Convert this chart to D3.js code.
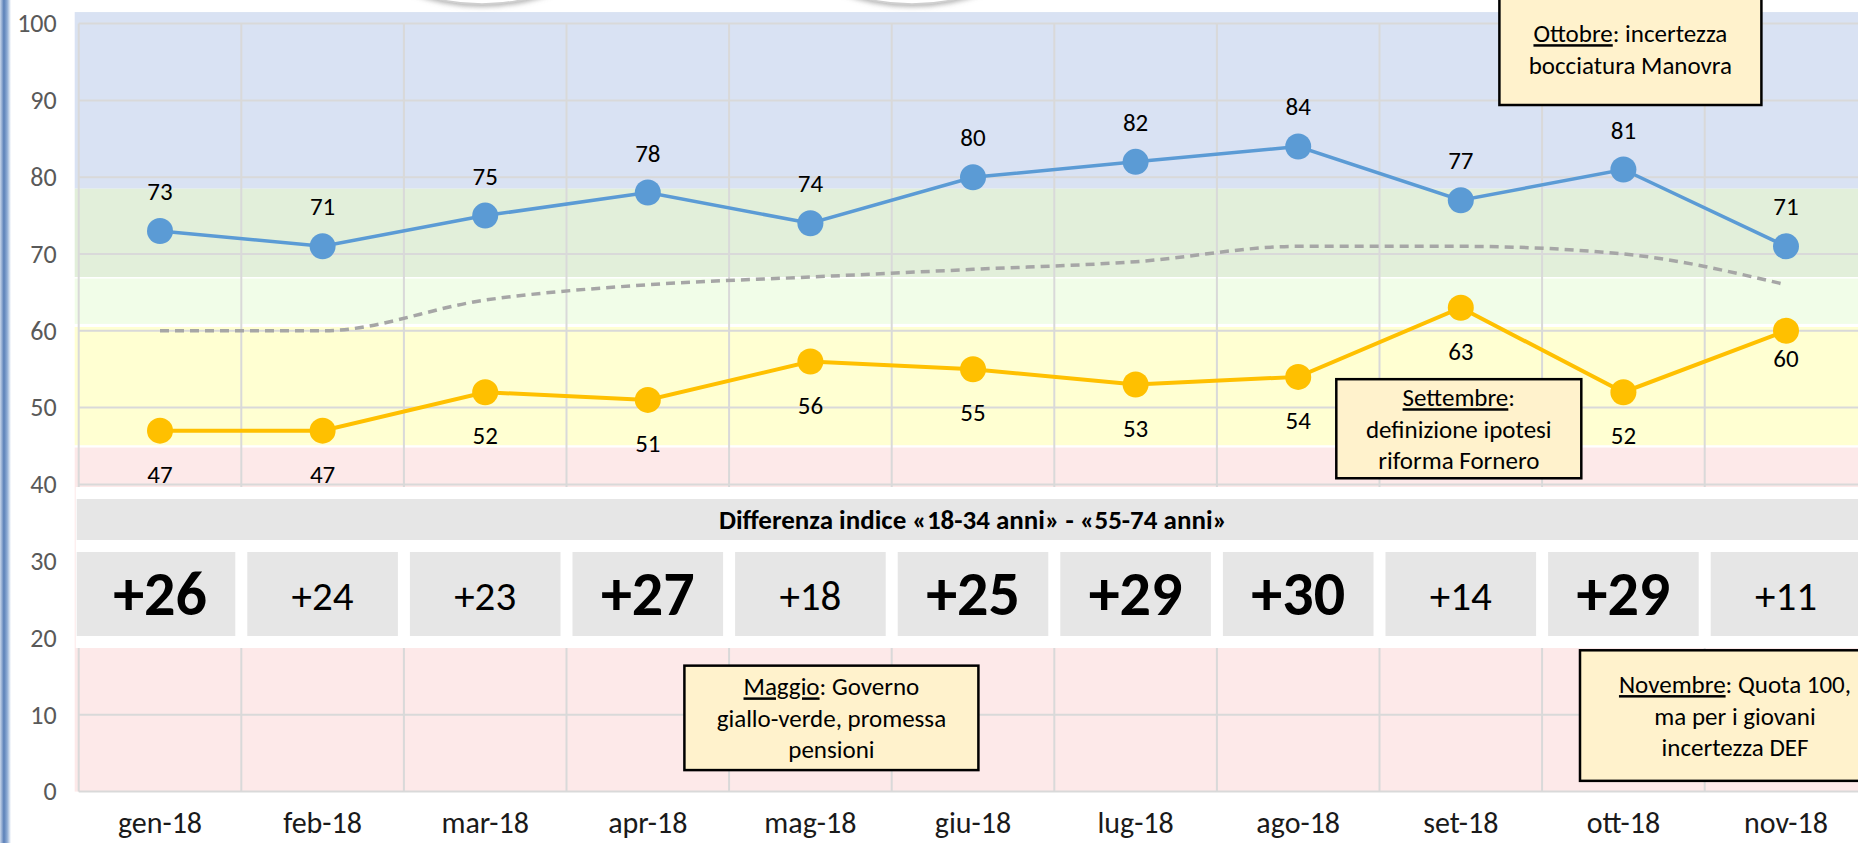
<!DOCTYPE html>
<html lang="it">
<head>
  <meta charset="UTF-8" />
  <title>Indice 18-34 vs 55-74 anni</title>
  <style>
    body {
      margin: 0;
      padding: 0;
      background: #ffffff;
      font-family: Carlito, Calibri, Lato, sans-serif;
    }
    svg { display: block; }
  </style>
</head>
<body>
  <svg id="chart"></svg>

  <script src="https://cdn.jsdelivr.net/npm/d3@7"></script>
  <script>
    // dati
    const months = ["gen-18", "feb-18", "mar-18", "apr-18", "mag-18", "giu-18",
                    "lug-18", "ago-18", "set-18", "ott-18", "nov-18"];
    const young = [73, 71, 75, 78, 74, 80, 82, 84, 77, 81, 71];   // 18-34 anni
    const old   = [47, 47, 52, 51, 56, 55, 53, 54, 63, 52, 60];   // 55-74 anni
    const avg   = [60, 60, 64, 66, 67, 68, 69, 71, 71, 70, 66];   // media
    const yTicks = [0, 10, 20, 30, 40, 50, 60, 70, 80, 90, 100];
    const zoneBounds = [[101.5, 78.5], [78.5, 67], [66.8, 60.9], [60.5, 45.1], [44.8, 0]];
    const zoneColors = ["#d9e2f3", "#e2efda", "#f1fde8", "#ffffd2", "#fde9e9"];
    const headerText = "Differenza indice «18-34 anni» - «55-74 anni»";

    const notes = [
      { month: "ott-18", dx: 7,   top: 104,  bottom: 89.4, width: 262,
        lines: [[["Ottobre", true], [": incertezza", false]], [["bocciatura Manovra", false]]] },
      { month: "set-18", dx: -2,  top: 53.7, bottom: 40.8, width: 245,
        lines: [[["Settembre", true], [":", false]], [["definizione ipotesi", false]], [["riforma Fornero", false]]] },
      { month: "mag-18", dx: 21,  top: 16.4, bottom: 2.8,  width: 294,
        lines: [[["Maggio", true], [": Governo", false]], [["giallo-verde, promessa", false]], [["pensioni", false]]] },
      { month: "nov-18", dx: -51, top: 18.4, bottom: 1.4,  width: 310,
        lines: [[["Novembre", true], [": Quota 100,", false]], [["ma per i giovani", false]], [["incertezza DEF", false]]] }
    ];

    const W = 1858, H = 843;
    const FONT = "Carlito, Calibri, Lato, sans-serif";
    const svg = d3.select("#chart").attr("width", W).attr("height", H);

    const left = 78.7, step = 162.6;
    const x = d3.scaleBand().domain(months).range([left, left + step * months.length]);
    const y = d3.scaleLinear().domain([0, 100]).range([791.6, 23.6]);
    const cx = m => x(m) + x.bandwidth() / 2;

    const defs = svg.append("defs");
    const grad = defs.append("linearGradient").attr("id", "edge");
    grad.append("stop").attr("offset", "0%").attr("stop-color", "#c9d6ea");
    grad.append("stop").attr("offset", "35%").attr("stop-color", "#5b80b8");
    grad.append("stop").attr("offset", "65%").attr("stop-color", "#8eabd4");
    grad.append("stop").attr("offset", "100%").attr("stop-color", "#ffffff");
    const shadow = defs.append("filter").attr("id", "shadow")
      .attr("x", "-20%").attr("y", "-20%").attr("width", "140%").attr("height", "140%");
    shadow.append("feDropShadow").attr("dx", 0).attr("dy", 2)
      .attr("stdDeviation", 2.5).attr("flood-color", "#7f7f7f").attr("flood-opacity", 0.6);

    // bordo blu a sinistra
    svg.append("rect").attr("x", 0).attr("y", 0).attr("width", 11).attr("height", H)
      .attr("fill", "url(#edge)");

    // fasce colorate
    svg.append("g").selectAll("rect").data(zoneBounds).join("rect")
      .attr("x", left - 4)
      .attr("y", d => y(d[0]))
      .attr("width", W)
      .attr("height", d => y(d[1]) - y(d[0]))
      .attr("fill", (d, i) => zoneColors[i]);

    // griglia
    const grid = svg.append("g").attr("stroke", "#d9d9d9").attr("stroke-width", 2);
    grid.selectAll("line.h").data(yTicks).join("line").attr("class", "h")
      .attr("x1", left).attr("x2", W).attr("y1", d => y(d)).attr("y2", d => y(d));
    grid.selectAll("line.v").data(months).join("line").attr("class", "v")
      .attr("x1", d => x(d)).attr("x2", d => x(d)).attr("y1", y(100)).attr("y2", y(0));

    // asse y
    const yAxis = svg.append("g")
      .attr("transform", `translate(${left - 22},0)`)
      .call(d3.axisLeft(y).tickValues(yTicks).tickSize(0).tickPadding(0));
    yAxis.select(".domain").remove();
    yAxis.selectAll("text").attr("font-size", 26).attr("fill", "#595959")
      .attr("font-family", FONT);

    // asse x
    const xAxis = svg.append("g")
      .attr("transform", `translate(0,${y(0)})`)
      .call(d3.axisBottom(x).tickSize(0).tickPadding(20));
    xAxis.select(".domain").remove();
    xAxis.selectAll("text").attr("font-size", 30).attr("fill", "#1a1a1a")
      .attr("font-family", FONT);

    // tabella differenze
    const tab = svg.append("g");
    tab.append("rect").attr("x", left - 3).attr("y", 487).attr("width", W).attr("height", 161)
      .attr("fill", "#ffffff");
    tab.append("rect").attr("x", left - 2).attr("y", 499).attr("width", W).attr("height", 41)
      .attr("fill", "#e6e6e6");
    tab.append("text").attr("x", (x.range()[0] + x.range()[1]) / 2).attr("y", 529)
      .attr("text-anchor", "middle").attr("font-size", 27).attr("font-weight", "bold")
      .attr("fill", "#000").text(headerText);

    const diffs = young.map((v, i) => v - old[i]);
    const cells = tab.selectAll("g.cell").data(months).join("g").attr("class", "cell");
    cells.append("rect")
      .attr("x", (d, i) => i === 0 ? left - 2 : x(d) + 6)
      .attr("y", 552)
      .attr("width", (d, i) => i === 0 ? x.bandwidth() - 4 : x.bandwidth() - 12)
      .attr("height", 84)
      .attr("fill", "#e6e6e6");
    cells.append("text")
      .attr("x", d => cx(d))
      .attr("y", (d, i) => diffs[i] >= 25 ? 615 : 610)
      .attr("text-anchor", "middle")
      .attr("font-size", (d, i) => diffs[i] >= 25 ? 62 : 41)
      .attr("font-weight", (d, i) => diffs[i] >= 25 ? "bold" : "normal")
      .attr("fill", "#000")
      .text((d, i) => "+" + diffs[i]);

    // linea media tratteggiata
    svg.append("path")
      .datum(avg)
      .attr("fill", "none")
      .attr("stroke", "#a6a6a6")
      .attr("stroke-width", 3.5)
      .attr("stroke-dasharray", "9,6")
      .attr("d", d3.line().x((d, i) => cx(months[i])).y(d => y(d)).curve(d3.curveMonotoneX));

    function drawSeries(values, color, width, above) {
      const g = svg.append("g");
      g.append("path")
        .datum(values)
        .attr("fill", "none")
        .attr("stroke", color)
        .attr("stroke-width", width)
        .attr("d", d3.line().x((d, i) => cx(months[i])).y(d => y(d)));
      g.selectAll("circle").data(values).join("circle")
        .attr("cx", (d, i) => cx(months[i]))
        .attr("cy", d => y(d))
        .attr("r", 13)
        .attr("fill", color);
      g.selectAll("text").data(values).join("text")
        .attr("x", (d, i) => cx(months[i]))
        .attr("y", (d, i) => {
          if (above) return y(d) - 31;
          return y(d) + (i === values.length - 1 ? 36 : 52);
        })
        .attr("text-anchor", "middle")
        .attr("font-size", 25)
        .attr("fill", "#000")
        .text(d => d);
    }
    drawSeries(young, "#5b9bd5", 3.5, true);
    drawSeries(old, "#ffc000", 4, false);

    // riquadri di commento
    const lineGap = 31.5;
    notes.forEach(n => {
      const mid = cx(n.month) + n.dx;
      const top = y(n.top), bottom = y(n.bottom);
      const g = svg.append("g");
      g.append("rect")
        .attr("x", mid - n.width / 2).attr("y", top)
        .attr("width", n.width).attr("height", bottom - top)
        .attr("fill", "#fff2cc").attr("stroke", "#000").attr("stroke-width", 2.5);
      const c = (top + bottom) / 2;
      n.lines.forEach((parts, k) => {
        const t = g.append("text")
          .attr("x", mid)
          .attr("y", c + (k - (n.lines.length - 1) / 2) * lineGap + 9)
          .attr("text-anchor", "middle")
          .attr("font-size", 25)
          .attr("fill", "#000");
        parts.forEach(p => {
          t.append("tspan").attr("text-decoration", p[1] ? "underline" : null).text(p[0]);
        });
      });
    });

    // cerchi decorativi in alto
    svg.append("g").selectAll("circle").data([482, 912]).join("circle")
      .attr("cx", d => d).attr("cy", -196).attr("r", 200)
      .attr("fill", "#ffffff").attr("stroke", "#cfcfcf").attr("stroke-width", 1.5)
      .attr("filter", "url(#shadow)");
  </script>
</body>
</html>
